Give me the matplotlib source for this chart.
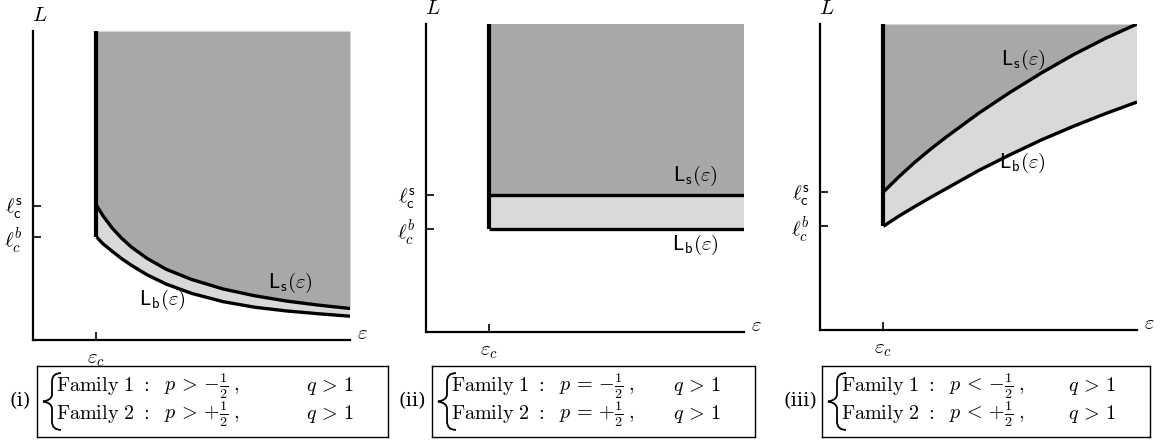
import numpy as np
import matplotlib.pyplot as plt
from matplotlib.path import Path
from matplotlib.patches import PathPatch

plt.rcParams['mathtext.fontset'] = 'cm'
plt.rcParams['font.family'] = 'serif'

# schematic values, axes normalised to 0..1
eps_c = [0.20, 0.198, 0.20]

# panel (i): decreasing curves
ls1_eps = [0.201, 0.22, 0.25, 0.28, 0.31, 0.36, 0.42, 0.5, 0.6, 0.7, 0.8, 0.9, 1.0]
ls1_L = [0.435, 0.403, 0.362, 0.329, 0.301, 0.264, 0.229, 0.196, 0.165, 0.143, 0.126, 0.113, 0.102]
lb1_eps = [0.201, 0.22, 0.25, 0.28, 0.31, 0.36, 0.42, 0.5, 0.6, 0.7, 0.8, 0.9, 1.0]
lb1_L = [0.333, 0.312, 0.287, 0.263, 0.242, 0.211, 0.181, 0.151, 0.124, 0.106, 0.094, 0.085, 0.077]

# panel (ii): constant
ls2_eps = [0.198, 1.0]
ls2_L = [0.445, 0.445]
lb2_eps = [0.198, 1.0]
lb2_L = [0.334, 0.334]

# panel (iii): increasing curves
ls3_eps = [0.20, 0.25, 0.3, 0.35, 0.4, 0.5, 0.6, 0.7, 0.8, 0.9, 1.0]
ls3_L = [0.451, 0.502, 0.549, 0.592, 0.632, 0.708, 0.777, 0.841, 0.900, 0.953, 1.0]
lb3_eps = [0.20, 0.25, 0.3, 0.35, 0.4, 0.5, 0.6, 0.7, 0.8, 0.9, 1.0]
lb3_L = [0.339, 0.373, 0.404, 0.434, 0.463, 0.521, 0.573, 0.622, 0.666, 0.707, 0.745]

labels = ['(i)', '(ii)', '(iii)']
rel = ['>', '=', '<']

dark = '#a8a8a8'
light = '#d9d9d9'

W, H = 1161, 443
fig = plt.figure(figsize=(W / 100, H / 100), dpi=100)


def px_axes(x0, y0, x1, y1):
    return fig.add_axes([x0 / W, 1 - y1 / H, (x1 - x0) / W, (y1 - y0) / H])


panels = [
    ((33, 31, 350, 340), ls1_eps, ls1_L, lb1_eps, lb1_L, (290, 283), (162, 300)),
    ((426, 24, 744, 332), ls2_eps, ls2_L, lb2_eps, lb2_L, (695, 176), (695, 245)),
    ((820, 24, 1137, 330), ls3_eps, ls3_L, lb3_eps, lb3_L, (1023, 60), (1022, 163)),
]
boxes = [(37, 366, 388, 437), (432, 366, 755, 437), (822, 366, 1150, 437)]
tag_x = [20, 412, 800]

for i, (pos, ls_e, ls_l, lb_e, lb_l, lsl, lbl) in enumerate(panels):
    ax = px_axes(*pos)
    ax.set_xlim(0, 1)
    ax.set_ylim(0, 1)
    ax.patch.set_alpha(0)
    for s in ['top', 'right']:
        ax.spines[s].set_visible(False)
    for s in ['left', 'bottom']:
        ax.spines[s].set_linewidth(1.6)

    ls_e = np.array(ls_e); ls_l = np.array(ls_l)
    lb_e = np.array(lb_e); lb_l = np.array(lb_l)
    ax.fill_between(ls_e, ls_l, 1, color=dark, lw=0)
    ax.fill(np.concatenate([lb_e, ls_e[::-1]]), np.concatenate([lb_l, ls_l[::-1]]),
            color=light, lw=0)
    ax.plot(ls_e, ls_l, color='black', lw=2.4, solid_capstyle='butt', solid_joinstyle='round')
    ax.plot(lb_e, lb_l, color='black', lw=2.4, solid_capstyle='butt', solid_joinstyle='round')
    ax.plot([eps_c[i], eps_c[i]], [lb_l[0], 1], color='black', lw=3, solid_capstyle='butt')

    ax.set_yticks([ls_l[0], lb_l[0]])
    ax.set_yticklabels([r'$\ell^{\mathsf{s}}_{\mathsf{c}}$', r'$\ell^{b}_{c}$'], fontsize=15)
    ax.set_xticks([eps_c[i]])
    ax.set_xticklabels([r'$\varepsilon_c$'], fontsize=15)
    ax.tick_params(direction='in', length=6, width=1.2, pad=7)

    ax.text(0.02, 1.05, r'$L$', transform=ax.transAxes, fontsize=15, ha='center', va='center')
    ax.text(1.04, 0.02, r'$\varepsilon$', transform=ax.transAxes, fontsize=15, ha='center', va='center')

    # curve labels, placed in pixel positions converted to axes fraction
    x0, y0, x1, y1 = pos
    for (px, py), txt in [(lsl, r'$\mathsf{L}_{\mathsf{s}}(\varepsilon)$'),
                          (lbl, r'$\mathsf{L}_{\mathsf{b}}(\varepsilon)$')]:
        ax.text((px - x0) / (x1 - x0), (y1 - py) / (y1 - y0), txt, transform=ax.transAxes,
                fontsize=15, ha='center', va='center')

    # condition box
    bl, bt, br, bb = boxes[i]
    bw = br - bl
    bx = px_axes(*boxes[i])
    bx.set_xlim(0, 1)
    bx.set_ylim(0, 1)
    bx.set_xticks([])
    bx.set_yticks([])
    for s in bx.spines.values():
        s.set_linewidth(1.0)
    # curly brace
    xb, yt, yb, w = 15 / bw, 0.90, 0.10, 9 / bw
    ym = (yt + yb) / 2
    verts = [(xb + w, yt), (xb, yt), (xb, yt - 0.12),
             (xb, ym + 0.10), (xb, ym + 0.02), (xb - w, ym),
             (xb, ym - 0.02), (xb, ym - 0.10),
             (xb, yb + 0.12), (xb, yb), (xb + w, yb)]
    codes = [Path.MOVETO, Path.CURVE3, Path.CURVE3,
             Path.LINETO, Path.CURVE3, Path.CURVE3,
             Path.CURVE3, Path.CURVE3,
             Path.LINETO, Path.CURVE3, Path.CURVE3]
    bx.add_patch(PathPatch(Path(verts, codes), fill=False, lw=1.3, color='black'))
    for row, (fam, sign) in enumerate([('1', '-'), ('2', '+')]):
        yy = 0.72 if row == 0 else 0.33
        bx.text(19 / bw, yy, r'$\mathrm{Family\ %s\ :}$' % fam, fontsize=14.5, va='center')
        bx.text(127 / bw, yy, r'$p\,%s\,{%s}\frac{1}{2}\;,$' % (rel[i], sign), fontsize=14.5, va='center')
        bx.text(1 - 82 / bw, yy, r'$q\,>\,1$', fontsize=14.5, va='center')
    fig.text(tag_x[i] / W, 1 - 401 / H, labels[i], fontsize=14, ha='center', va='center')

fig.savefig('out.png', dpi=100)
